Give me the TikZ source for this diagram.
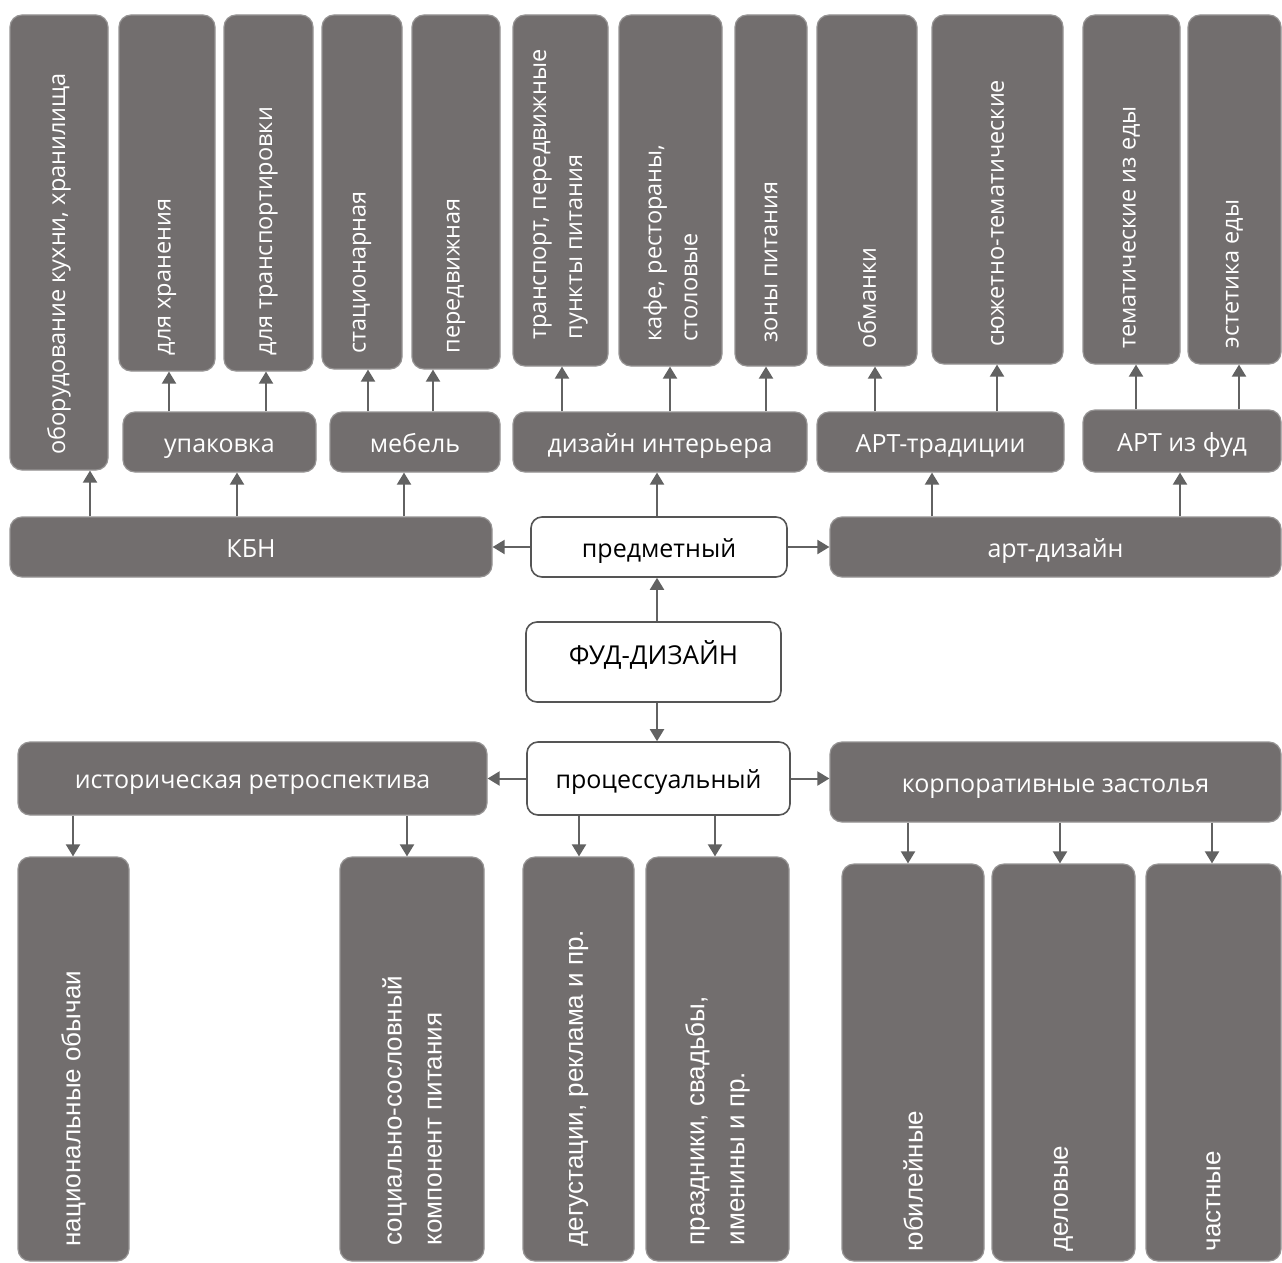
\documentclass[tikz,border=0pt]{standalone}
\usepackage{fontspec}
\newfontfamily\opensans{Open Sans}
\newfontfamily\arialsans{Liberation Sans}
\definecolor{boxgray}{RGB}{114, 110, 110}
\definecolor{boxline}{RGB}{150, 148, 148}
\definecolor{arrgray}{RGB}{98, 98, 98}
\definecolor{wline}{RGB}{85, 85, 85}
\usetikzlibrary{arrows.meta, positioning, calc}

\begin{document}
\begin{tikzpicture}[
  x=1pt, y=-1pt,
  dbox/.style={draw=boxline, fill=boxgray, line width=1.2pt, rounded corners=12pt, inner sep=0pt, text height=26pt, text depth=6pt, text=white, font=\opensans\fontsize{25}{30}\selectfont},
  wbox/.style={draw=wline, fill=white, line width=1.6pt, rounded corners=11pt, inner sep=0pt, text height=26pt, text depth=6pt, text=black, font=\opensans\fontsize{25}{30}\selectfont},
  toplab/.style={rotate=90, anchor=west, inner sep=0pt, align=left, text=white, font=\opensans\fontsize{23.5}{36}\selectfont},
  botlab/.style={rotate=90, anchor=west, inner sep=0pt, align=left, text=white, font=\arialsans\fontsize{26}{40}\selectfont},
  arr/.style={draw=arrgray, line width=2pt, -{Triangle[length=12pt, width=14pt]}}
]
  \useasboundingbox[fill=white] (0,0) rectangle (1282,1263);

  % top row
  \node[dbox, minimum width=98pt, minimum height=455pt] (obor) at (59,242.5) {};
  \node[dbox, minimum width=96pt, minimum height=356pt] (khran) at (167,193) {};
  \node[dbox, minimum width=89pt, minimum height=356pt] (perevoz) at (268.5,193) {};
  \node[dbox, minimum width=80pt, minimum height=354pt] (stac) at (362,192) {};
  \node[dbox, minimum width=88pt, minimum height=354pt] (pered) at (456,192) {};
  \node[dbox, minimum width=95pt, minimum height=351pt] (transp) at (560.5,190.5) {};
  \node[dbox, minimum width=103pt, minimum height=351pt] (kafe) at (670.5,190.5) {};
  \node[dbox, minimum width=72pt, minimum height=351pt] (zony) at (771,190.5) {};
  \node[dbox, minimum width=100pt, minimum height=351pt] (obman) at (867,190.5) {};
  \node[dbox, minimum width=131pt, minimum height=349pt] (syuzh) at (997.5,189.5) {};
  \node[dbox, minimum width=97pt, minimum height=349pt] (temat) at (1131.5,189.5) {};
  \node[dbox, minimum width=93pt, minimum height=349pt] (estet) at (1234.5,189.5) {};

  \node[toplab] (obor-t) at ([yshift=16pt]obor.south) {оборудование кухни, хранилища};
  \node[toplab] (khran-t) at ([yshift=16pt]khran.south) {для хранения};
  \node[toplab] (perevoz-t) at ([yshift=16pt]perevoz.south) {для транспортировки};
  \node[toplab] (stac-t) at ([yshift=16pt]stac.south) {стационарная};
  \node[toplab] (pered-t) at ([yshift=16pt]pered.south) {передвижная};
  \node[toplab] (transp-t) at ([yshift=27pt]transp.south) {транспорт, передвижные\\пункты питания};
  \node[toplab] (kafe-t) at ([yshift=25pt]kafe.south) {кафе, рестораны,\\столовые};
  \node[toplab] (zony-t) at ([yshift=24pt]zony.south) {зоны питания};
  \node[toplab] (obman-t) at ([yshift=18pt]obman.south) {обманки};
  \node[toplab] (syuzh-t) at ([yshift=18pt]syuzh.south) {сюжетно-тематические};
  \node[toplab] (temat-t) at ([yshift=16pt]temat.south) {тематические из еды};
  \node[toplab] (estet-t) at ([yshift=16pt]estet.south) {эстетика еды};

  % second row
  \node[dbox, minimum width=193pt, minimum height=60pt] (upak) at (219.5,442) {упаковка};
  \node[dbox, minimum width=170pt, minimum height=60pt] (mebel) at (415,442) {мебель};
  \node[dbox, minimum width=294pt, minimum height=60pt] (dizint) at (660,442) {дизайн интерьера};
  \node[dbox, minimum width=247pt, minimum height=60pt] (arttrad) at (940.5,442) {АРТ-традиции};
  \node[dbox, minimum width=198pt, minimum height=62pt] (artfood) at (1182,441) {АРТ из фуд};

  % branches
  \node[dbox, minimum width=482pt, minimum height=60pt] (kbn) at (251,547) {КБН};
  \node[wbox, minimum width=256pt, minimum height=60pt] (predm) at (659,547) {предметный};
  \node[dbox, minimum width=451pt, minimum height=60pt] (artdiz) at (1055.5,547) {арт-дизайн};

  \node[wbox, minimum width=255pt, minimum height=80pt, text depth=20.6pt, font=\opensans\fontsize{26}{30}\selectfont] (fud) at (653.5,662) {ФУД-ДИЗАЙН};

  \node[dbox, minimum width=469pt, minimum height=73pt] (istor) at (252.5,778.5) {историческая ретроспектива};
  \node[wbox, minimum width=263pt, minimum height=73pt] (proc) at (658.5,778.5) {процессуальный};
  \node[dbox, minimum width=451pt, minimum height=80pt] (korp) at (1055.5,782) {корпоративные застолья};

  % bottom row
  \node[dbox, minimum width=111pt, minimum height=404pt] (nac) at (73.5,1059) {};
  \node[dbox, minimum width=144pt, minimum height=404pt] (soc) at (412,1059) {};
  \node[dbox, minimum width=111pt, minimum height=404pt] (degus) at (578.5,1059) {};
  \node[dbox, minimum width=143pt, minimum height=404pt] (prazd) at (717.5,1059) {};
  \node[dbox, minimum width=142pt, minimum height=397pt] (yub) at (913,1062.5) {};
  \node[dbox, minimum width=143pt, minimum height=397pt] (delov) at (1063.5,1062.5) {};
  \node[dbox, minimum width=135pt, minimum height=397pt] (chast) at (1213.5,1062.5) {};

  \node[botlab] (nac-t) at ([yshift=15pt]nac.south) {национальные обычаи};
  \node[botlab] (soc-t) at ([yshift=16pt]soc.south) {социально-сословный\\компонент питания};
  \node[botlab] (degus-t) at ([yshift=15pt]degus.south) {дегустации, реклама и пр.};
  \node[botlab] (prazd-t) at ([yshift=16pt]prazd.south) {праздники, свадьбы,\\именины и пр.};
  \node[botlab] (yub-t) at ([yshift=10pt]yub.south) {юбилейные};
  \node[botlab] (delov-t) at ([yshift=10pt]delov.south) {деловые};
  \node[botlab] (chast-t) at ([yshift=10pt]chast.south) {частные};

  % connectors, upper half
  \draw[arr] (fud.north -| 657,0) -- (predm.south -| 657,0);
  \draw[arr] (predm.west) -- (kbn.east);
  \draw[arr] (predm.east) -- (artdiz.west);
  \draw[arr] (predm.north -| 657,0) -- (dizint.south -| 657,0);
  \foreach \xx/\dst in {90/obor, 237/upak, 404/mebel}
    \draw[arr] (kbn.north -| \xx,0) -- (\dst.south -| \xx,0);
  \foreach \xx/\dst in {932/arttrad, 1180/artfood}
    \draw[arr] (artdiz.north -| \xx,0) -- (\dst.south -| \xx,0);
  \foreach \xx/\dst in {169/khran, 266/perevoz}
    \draw[arr] (upak.north -| \xx,0) -- (\dst.south -| \xx,0);
  \foreach \xx/\dst in {368/stac, 433/pered}
    \draw[arr] (mebel.north -| \xx,0) -- (\dst.south -| \xx,0);
  \foreach \xx/\dst in {562/transp, 670/kafe, 766/zony}
    \draw[arr] (dizint.north -| \xx,0) -- (\dst.south -| \xx,0);
  \foreach \xx/\dst in {875/obman, 997/syuzh}
    \draw[arr] (arttrad.north -| \xx,0) -- (\dst.south -| \xx,0);
  \foreach \xx/\dst in {1136/temat, 1239/estet}
    \draw[arr] (artfood.north -| \xx,0) -- (\dst.south -| \xx,0);

  % connectors, lower half
  \draw[arr] (fud.south -| 657,0) -- (proc.north -| 657,0);
  \draw[arr] (proc.west) -- (istor.east);
  \draw[arr] (proc.east) -- (korp.west |- proc.east);
  \foreach \xx/\dst in {73/nac, 407/soc}
    \draw[arr] (istor.south -| \xx,0) -- (\dst.north -| \xx,0);
  \foreach \xx/\dst in {579/degus, 715/prazd}
    \draw[arr] (proc.south -| \xx,0) -- (\dst.north -| \xx,0);
  \foreach \xx/\dst in {908/yub, 1060/delov, 1212/chast}
    \draw[arr] (korp.south -| \xx,0) -- (\dst.north -| \xx,0);
\end{tikzpicture}
\end{document}
